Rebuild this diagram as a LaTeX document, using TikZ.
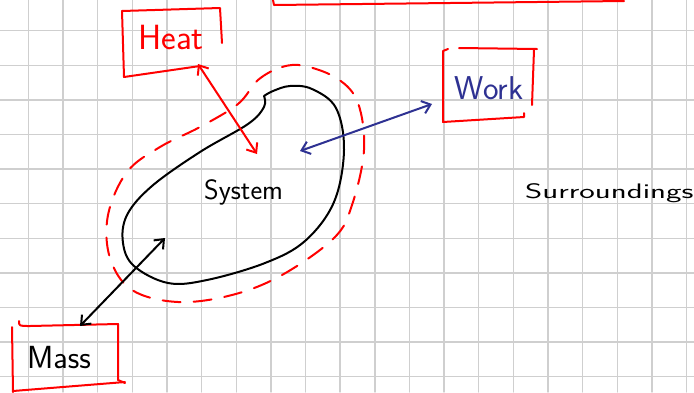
\documentclass[tikz,border=0pt]{standalone}
\usepackage{fontspec}
\usetikzlibrary{arrows.meta}
\definecolor{inkblue}{RGB}{46,49,146}
\begin{document}
\begin{tikzpicture}[x=1pt,y=-1pt, line cap=round, line join=round,
  gridline/.style={draw=gray!38, line width=1.4pt},
  pen/.style={line width=2pt},
  redpen/.style={pen, draw=red},
  bluepen/.style={pen, draw=inkblue},
  barb/.style={{Straight Barb[length=8pt,width=13pt]}-{Straight Barb[length=8pt,width=13pt]}},
  label/.style={font=\sffamily\fontsize{#1}{#1}\selectfont, inner sep=0pt}
]
\useasboundingbox (0,0) rectangle (694,392);
\fill[white] (0,0) rectangle (694,392);
% grid paper
\foreach \i in {0,...,19} \draw[gridline] ({28.3+34.65*\i},0) -- ({28.3+34.65*\i},392);
\foreach \j in {0,...,10} \draw[gridline] (0,{30.7+34.6*\j}) -- (694,{30.7+34.6*\j});

% partial box at top
\draw[redpen] (273,0) -- (274,5) -- (450,3) -- (624,1);

% Heat box
\draw[redpen] (122,11) -- (220,8) -- (222,43);
\draw[redpen] (122,11) -- (124,77) -- (200,66);
\node[label=35, text=red] (heat) at (171,37) {Heat};

% Work box
\draw[redpen] (448,49) -- (443,51) -- (443,122) -- (524,117) -- (524,113);
\draw[redpen] (459,48) -- (537,49);
\draw[redpen] (534,50) -- (532,105);
\node[label=33, text=inkblue] (work) at (489,88) {Work};

% Mass box
\draw[redpen] (19,321) .. controls (19,326) .. (30,326) -- (118,324) -- (118,380) -- (125,383);
\draw[redpen] (12,327) -- (13,392);
\draw[redpen] (13,391) -- (125,382);
\node[label=32] (mass) at (59,358) {Mass};

% system boundary (dashed)
\draw[redpen, dash pattern=on 18pt off 13pt] plot[smooth cycle, tension=0.6] coordinates {
  (258,80) (282,67) (305,66) (338,79) (358,103) (364,150) (352,205) (334,238)
  (282,275) (232,295) (178,302) (132,290) (110,258) (108,215) (127,172)
  (160,147) (200,127) (238,104)};

% system
\draw[pen] plot[smooth, tension=0.6] coordinates {
  (264,96) (264,107) (248,124) (200,152) (152,186) (127,215) (123,243)
  (134,266) (168,283) (207,280) (265,263) (305,241) (334,202) (344,150)
  (336,108) (312,89) (290,86) (273,91) (264,96)};
\node[label=28, anchor=base west] (system) at (204,199) {System};

% surroundings
\node[label=21, anchor=base west] (surr) at (525,198) {\scalebox{1.57}[1]{Surroundings}};

% exchanges
\coordinate (hA1) at (198,64);
\coordinate (hA2) at (257,154);
\draw[redpen, barb] (hA1) -- (hA2);
\coordinate (wA1) at (300,151);
\coordinate (wA2) at (432,104);
\draw[bluepen, barb] (wA1) -- (wA2);
\coordinate (mA1) at (165,238);
\coordinate (mA2) at (80,326);
\draw[pen, barb] (mA1) -- (mA2);
\end{tikzpicture}
\end{document}
